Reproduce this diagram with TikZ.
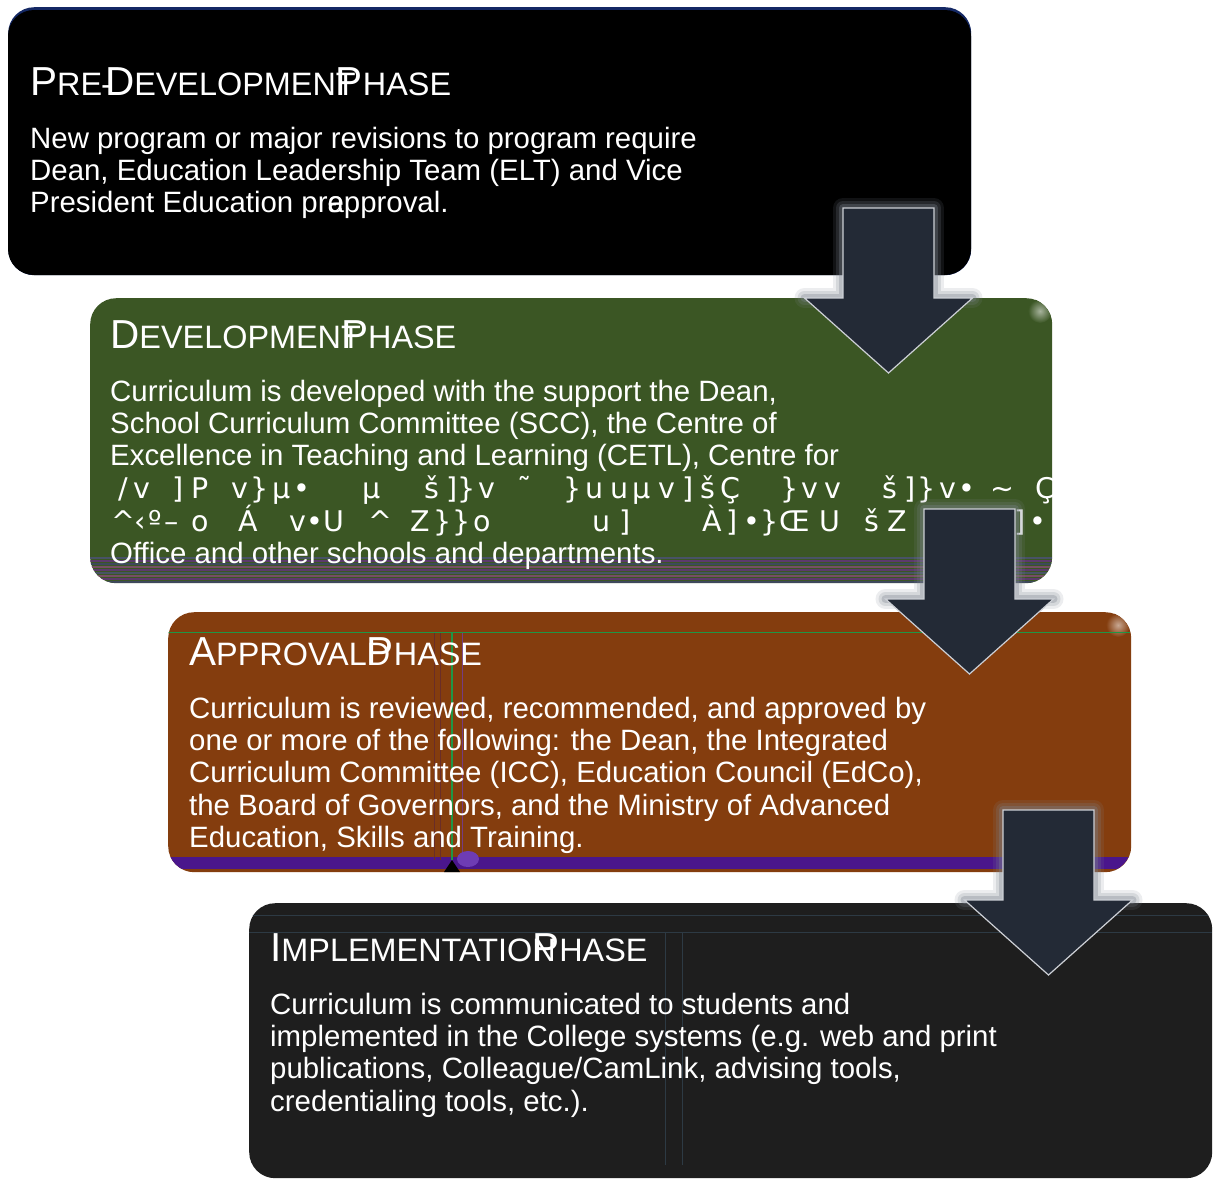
\documentclass[tikz,border=0pt]{standalone}
\usepackage{fontspec}
\setmainfont{Liberation Sans}
\newfontfamily\glyphfont{DejaVu Sans}
\definecolor{navyline}{RGB}{20,40,100}
\definecolor{devgreen}{RGB}{59,86,36}
\definecolor{apprbrown}{RGB}{132,61,14}
\definecolor{implgray}{RGB}{30,30,30}
\definecolor{arrowfill}{RGB}{35,42,54}
\definecolor{arrowedge}{RGB}{205,208,214}
\definecolor{glowgray}{RGB}{125,132,142}
\definecolor{bandpurple}{RGB}{74,22,140}
\definecolor{stripeA}{RGB}{72,82,102}
\definecolor{stripeB}{RGB}{92,58,108}
\definecolor{stripeC}{RGB}{118,78,100}
\definecolor{stripeD}{RGB}{62,72,92}
\definecolor{artline}{RGB}{45,58,68}
\definecolor{artgreen}{RGB}{30,150,70}
\definecolor{artpurple}{RGB}{110,60,180}
\definecolor{artbrown}{RGB}{105,45,40}

\newcommand\titlebig[1]{{\fontsize{40.5}{44}\selectfont #1}}

\tikzset{
  phasebox/.style={rounded corners=26pt, draw=none, inner sep=0pt, anchor=north west},
  titletext/.style={anchor=base west, inner sep=0pt, text=white, font=\fontsize{32.4}{36}\selectfont},
  bodytext/.style={anchor=base west, inner sep=0pt, text=white, font=\fontsize{29.4}{32.4}\selectfont},
  glyph/.style={anchor=base, inner sep=0pt, text=white, font=\glyphfont\fontsize{28.5}{32}\selectfont},
  arrowbody/.style={fill=arrowfill, draw=arrowedge, line width=1.2pt, line join=miter},
  arrowglow/.style={draw=glowgray, line join=round, line cap=round},
}

\newcommand\phasearrow[3]{%
  \begin{scope}[shift={(#2,#3)}]
    \foreach \w/\o in {20/0.14, 14/0.2, 8/0.32}
      \draw[arrowglow, line width=\w pt, draw opacity=\o]
        (-84,90) -- (-45.5,90) -- (-45.5,0) -- (45.5,0) -- (45.5,90) -- (84,90);
    \draw[arrowbody] (-45.5,0) -- (45.5,0) -- (45.5,90) -- (84,90) -- (0,165)
      -- (-84,90) -- (-45.5,90) -- cycle;
    \coordinate (#1) at (0,165);
  \end{scope}}

\begin{document}
\begin{tikzpicture}[x=1pt,y=-1pt]
\fill[white] (0,0) rectangle (1213,1179);
\useasboundingbox (0,0) rectangle (1213,1179);

% ---------- box 1 : pre-development ----------
\node[phasebox, fill=navyline, minimum width=963pt, minimum height=268pt] (pre) at (8,7) {};
\fill[black, rounded corners=26pt] (8,10) rectangle (971,275);

% ---------- box 2 : development ----------
\node[phasebox, fill=devgreen, minimum width=962pt, minimum height=285pt] (dev) at (90,298) {};
\begin{scope}
  \clip[rounded corners=26pt] (90,298) rectangle (1052,583);
  \shade[inner color=devgreen!45!white, outer color=devgreen] (1040,311) circle (12pt);
  \foreach \sy/\sc in {558/stripeA, 561/stripeB, 564/stripeD, 567/stripeC, 570/stripeB,
                       573/stripeA, 576/stripeC, 579/stripeB, 582/stripeD}
    \draw[\sc, line width=1.6pt] (90,\sy) -- (1052,\sy);
\end{scope}

% ---------- box 3 : approval ----------
\node[phasebox, fill=apprbrown, minimum width=963pt, minimum height=260pt] (appr) at (168,612) {};
\begin{scope}
  \clip[rounded corners=26pt] (168,612) rectangle (1131,872);
  \shade[inner color=apprbrown!45!white, outer color=apprbrown] (1118,625) circle (12pt);
  \fill[bandpurple] (168,857) rectangle (1131,869);
  \draw[artgreen, line width=0.8pt] (168,632) -- (1131,632);
  \draw[artbrown, line width=1pt] (434,633) -- (434,860);
  \draw[artbrown, line width=1pt] (440,633) -- (440,860);
  \draw[artgreen, line width=1.6pt] (452,633) -- (452,860);
  \draw[artpurple!70!apprbrown, line width=1pt] (462,633) -- (462,860);
  \fill[black] (444,872) -- (452,860) -- (460,872) -- cycle;
  \fill[artpurple] (468,859) ellipse (11pt and 8pt);
\end{scope}

% ---------- box 4 : implementation ----------
\node[phasebox, fill=implgray, minimum width=963pt, minimum height=275pt] (impl) at (249,903) {};
\begin{scope}
  \clip[rounded corners=26pt] (249,903) rectangle (1212,1178);
  \draw[artline, line width=1pt] (249,915) -- (1212,915);
  \draw[artline, line width=1pt] (249,932) -- (1212,932);
  \draw[artline, line width=1pt] (665,932) -- (665,1165);
  \draw[artline, line width=1pt] (682,932) -- (682,1165);
\end{scope}

% ---------- titles ----------
\node[titletext] (preT) at (30,95)
  {\titlebig{P}RE\kern-1pt-\kern-7pt\titlebig{D}EVELOPMEN\rlap{T}\titlebig{P}HASE};
\node[titletext] (devT) at (110,348)
  {\titlebig{D}EVELOPMEN\rlap{T}\titlebig{P}HASE};
\node[titletext] (apprT) at (189,665)
  {\titlebig{A}PPROVAL\rlap{D}\titlebig{P}HASE};
\node[titletext] (implT) at (270,961)
  {\titlebig{I}MPLEMENTATIO\rlap{N}\titlebig{P}HASE};

% ---------- body text ----------
\node[bodytext] (pre1) at (30,148) {New program or major revisions to program require};
\node[bodytext] (pre2) at (30,180.4) {Dean, Education Leadership Team (ELT) and Vice};
\node[bodytext] (pre3) at (30,212.8) {President Education pr\rlap{e}\rlap{-}approval.};

\node[bodytext] (dev1) at (110,401) {Curriculum is developed with the support the Dean,};
\node[bodytext] (dev2) at (110,433.4) {School Curriculum Committee (SCC), the Centre of};
\node[bodytext] (dev3) at (110,465.8) {Excellence in Teaching and Learning (CETL), Centre for};
\begin{scope}
  \clip[rounded corners=26pt] (90,298) rectangle (1052,583);
  \foreach \gx/\gc [count=\k] in {123/{/}, 142/v, 178/], 200/P, 240/v, 260/{\}}, 282/µ, 302/•,
      372/µ, 432/š, 452/], 467/{\}}, 487/v, 525/˜, 573/{\}}, 595/u, 620/u, 642/µ, 667/v,
      688/], 708/š, 730/Ç, 790/{\}}, 810/v, 833/v, 890/š, 910/], 927/{\}}, 948/v, 967/•,
      1002/{\char"7E}, 1045/Ç}
    {\node[glyph] (lnA\k) at (\gx,498.5) {\gc};}
  \foreach \gx/\gc [count=\k] in {123/{\char"5E}, 140/‹, 155/º, 172/–, 200/o, 248/Á, 298/v,
      315/•, 334/U, 380/{\char"5E}, 420/Z, 443/{\}}, 462/{\}}, 482/o, 602/u, 625/], 712/À,
      732/], 752/•, 770/{\}}, 795/Œ, 830/U, 872/š, 897/Z, 1020/], 1038/•}
    {\node[glyph] (lnB\k) at (\gx,531) {\gc};}
\end{scope}
\node[bodytext] (dev6) at (110,563) {Office and other schools and departments.};

\node[bodytext] (appr1) at (189,718) {Curriculum is reviewed, recommended, and approved by};
\node[bodytext] (appr2) at (189,750.4) {one or more of the following: the Dean, the Integrated};
\node[bodytext] (appr3) at (189,782.8) {Curriculum Committee (ICC), Education Council (EdCo),};
\node[bodytext] (appr4) at (189,815.2) {the Board of Governors, and the Ministry of Advanced};
\node[bodytext] (appr5) at (189,847.6) {Education, Skills and Training.};

\node[bodytext] (impl1) at (270,1014) {Curriculum is communicated to students and};
\node[bodytext] (impl2) at (270,1046.4) {implemented in the College systems (e.g. web and print};
\node[bodytext] (impl3) at (270,1078.8) {publications, Colleague/CamLink, advising tools,};
\node[bodytext] (impl4) at (270,1111.2) {credentialing tools, etc.).};

% ---------- arrows ----------
\phasearrow{tipA}{888.5}{208}
\phasearrow{tipB}{969.5}{509}
\phasearrow{tipC}{1048.5}{810}

\end{tikzpicture}
\end{document}
